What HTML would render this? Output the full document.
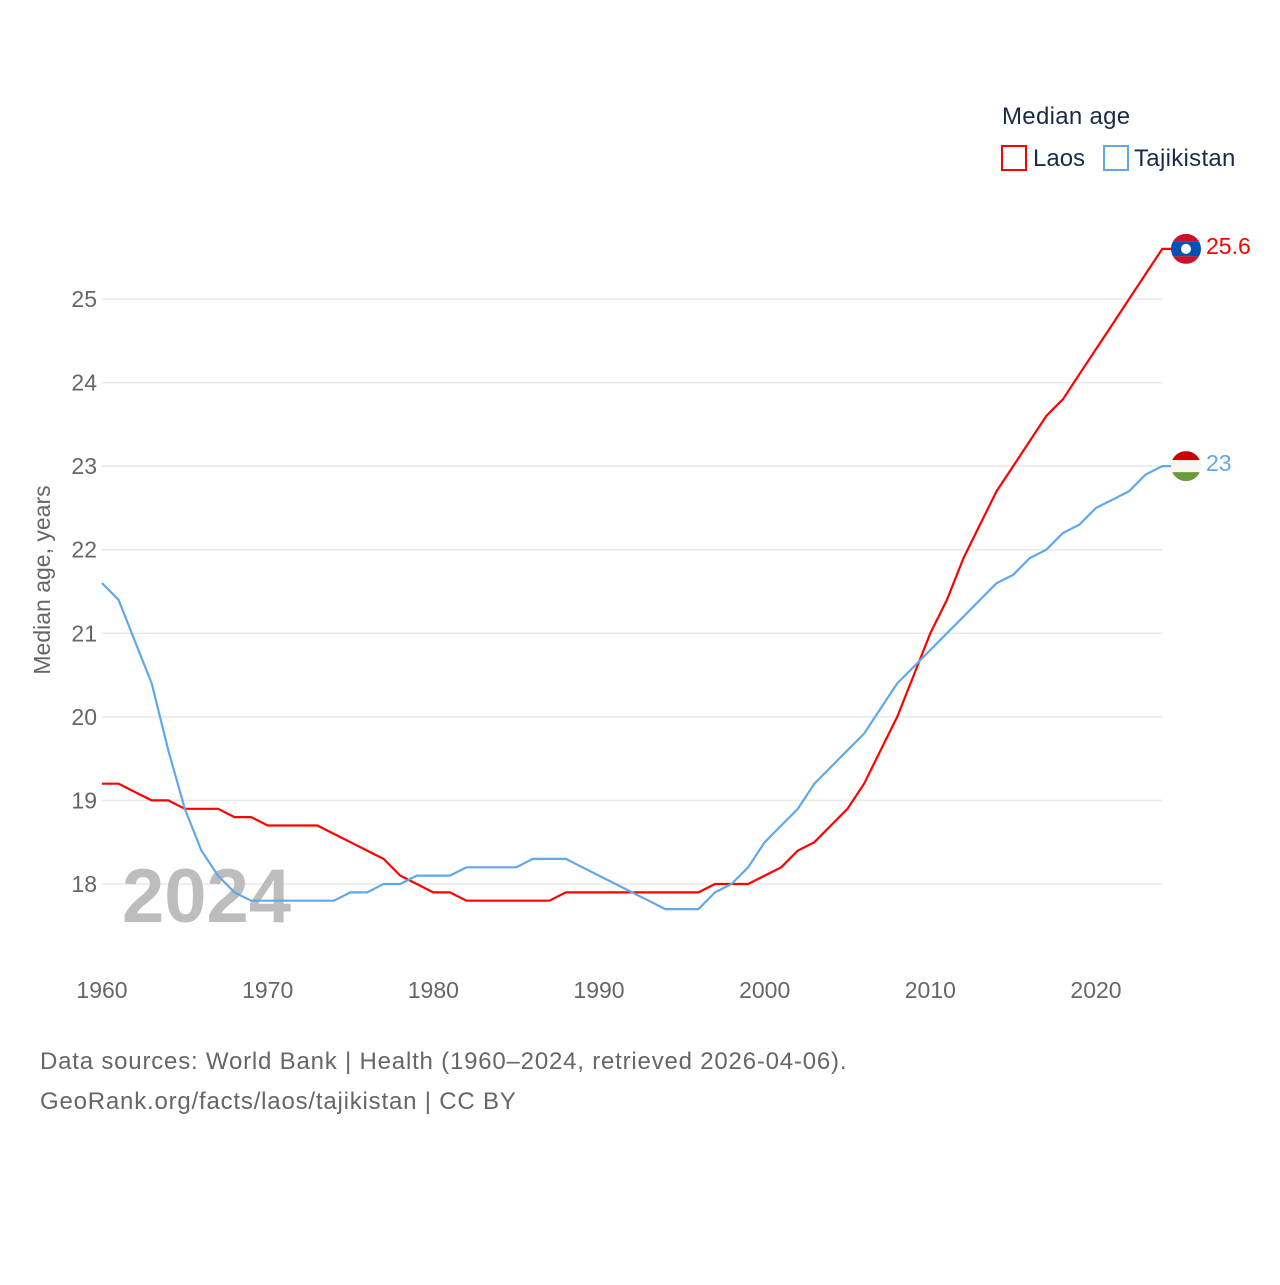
<!DOCTYPE html>
<html><head><meta charset="utf-8"><style>
body{margin:0;background:#fff;width:1280px;height:1280px;overflow:hidden;font-family:"Liberation Sans",sans-serif}
svg text{font-family:"Liberation Sans",sans-serif}
</style></head><body>
<svg id="chart" width="1280" height="1280" xmlns="http://www.w3.org/2000/svg">
<g id="grid"></g>
<g id="yticks"></g>
<g id="xticks"></g>
<text x="122" y="922" font-size="76" font-weight="bold" fill="#bdbdbd">2024</text>
<text transform="translate(50,580) rotate(-90)" text-anchor="middle" font-size="23" fill="#666">Median age, years</text>
<g id="series"></g>
<text x="1002" y="124" font-size="24" fill="#1a2b4a" letter-spacing="0.3">Median age</text>
<g><rect x="1002" y="146" width="24" height="24" fill="none" stroke="#f00" stroke-width="2"/><text x="1033" y="166" font-size="24" fill="#1a2b4a">Laos</text></g>
<g><rect x="1104" y="146" width="24" height="24" fill="none" stroke="#5fa8ea" stroke-width="2"/><text x="1134" y="166" font-size="24" fill="#1a2b4a" letter-spacing="0.3">Tajikistan</text></g>
<text x="40" y="1069" font-size="24" fill="#666" letter-spacing="0.8">Data sources: World Bank | Health (1960–2024, retrieved 2026-04-06).</text>
<text x="40" y="1109" font-size="24" fill="#666" letter-spacing="0.8">GeoRank.org/facts/laos/tajikistan | CC BY</text>
</svg>
<script>
const years=[];for(let y=1960;y<=2024;y++)years.push(y);
const laos=[19.2,19.2,19.1,19.0,19.0,18.9,18.9,18.9,18.8,18.8,18.7,18.7,18.7,18.7,18.6,18.5,18.4,18.3,18.1,18.0,17.9,17.9,17.8,17.8,17.8,17.8,17.8,17.8,17.9,17.9,17.9,17.9,17.9,17.9,17.9,17.9,17.9,18.0,18.0,18.0,18.1,18.2,18.4,18.5,18.7,18.9,19.2,19.6,20.0,20.5,21.0,21.4,21.9,22.3,22.7,23.0,23.3,23.6,23.8,24.1,24.4,24.7,25.0,25.3,25.6];
const tajikistan=[21.6,21.4,20.9,20.4,19.6,18.9,18.4,18.1,17.9,17.8,17.8,17.8,17.8,17.8,17.8,17.9,17.9,18.0,18.0,18.1,18.1,18.1,18.2,18.2,18.2,18.2,18.3,18.3,18.3,18.2,18.1,18.0,17.9,17.8,17.7,17.7,17.7,17.9,18.0,18.2,18.5,18.7,18.9,19.2,19.4,19.6,19.8,20.1,20.4,20.6,20.8,21.0,21.2,21.4,21.6,21.7,21.9,22.0,22.2,22.3,22.5,22.6,22.7,22.9,23.0];
const yTicks=[18,19,20,21,22,23,24,25];
const xTicks=[1960,1970,1980,1990,2000,2010,2020];
const NS="http://www.w3.org/2000/svg";
const xs=y=>102+(y-1960)*(994/60);
const ys=v=>884-(v-18)*(585/7);
function mk(tag,attrs,parent){const e=document.createElementNS(NS,tag);for(const k in attrs)e.setAttribute(k,attrs[k]);document.getElementById(parent).appendChild(e);return e;}
yTicks.forEach(t=>{
 const l=mk('line',{x1:102,x2:1162,y1:ys(t),y2:ys(t),stroke:'#e8e8e8','stroke-width':1.5},'grid');
 
 
 const tx=mk('text',{x:97,y:ys(t)+8,'text-anchor':'end','font-size':23,fill:'#666'},'yticks');
 tx.textContent=t;
 
 
});
xTicks.forEach(t=>{
 const tx=mk('text',{x:xs(t),y:998,'text-anchor':'middle','font-size':23,fill:'#666'},'xticks');
 tx.textContent=t;
 
 
});
function series(vals,color,name){
 const d=vals.map((v,i)=>(i?'L':'M')+xs(years[i]).toFixed(1)+','+ys(v).toFixed(1)).join(' ')+' L'+(xs(2024)+10)+','+ys(vals[vals.length-1]).toFixed(1);
 const p=mk('path',{d:d,fill:'none',stroke:color,'stroke-width':2.2},'series');
 
 
 const lv=vals[vals.length-1];
 const t=mk('text',{x:1206,y:ys(lv)+5,'font-size':23,fill:color},'series');
 t.textContent=lv;
 
 
 return ys(lv);
}
const yl=series(laos,'#f00','laos');
const yt=series(tajikistan,'#5fa8ea','tajikistan');
function flag(cy,stripes,name,extra){
 const g=mk('g',{},'series');
 
 
 const cid='c'+name;
 const cp=document.createElementNS(NS,'clipPath');cp.setAttribute('id',cid);
 const c=document.createElementNS(NS,'circle');c.setAttribute('cx',1186);c.setAttribute('cy',cy);c.setAttribute('r',15);cp.appendChild(c);g.appendChild(cp);
 let y0=cy-15;
 stripes.forEach(([h,col])=>{const r=document.createElementNS(NS,'rect');r.setAttribute('x',1171);r.setAttribute('y',y0);r.setAttribute('width',30);r.setAttribute('height',h);r.setAttribute('fill',col);r.setAttribute('clip-path','url(#'+cid+')');g.appendChild(r);y0+=h;});
 if(extra){const e=document.createElementNS(NS,'circle');e.setAttribute('cx',1186);e.setAttribute('cy',cy);e.setAttribute('r',5);e.setAttribute('fill','#fff');g.appendChild(e);}
}
flag(yl,[[7.5,'#ce1126'],[15,'#0052b4'],[7.5,'#ce1126']],'laos',true);
flag(yt,[[9,'#cc0000'],[12,'#f8f5f0'],[9,'#6a9a3a']],'tajikistan',false);
</script>
</body></html>
